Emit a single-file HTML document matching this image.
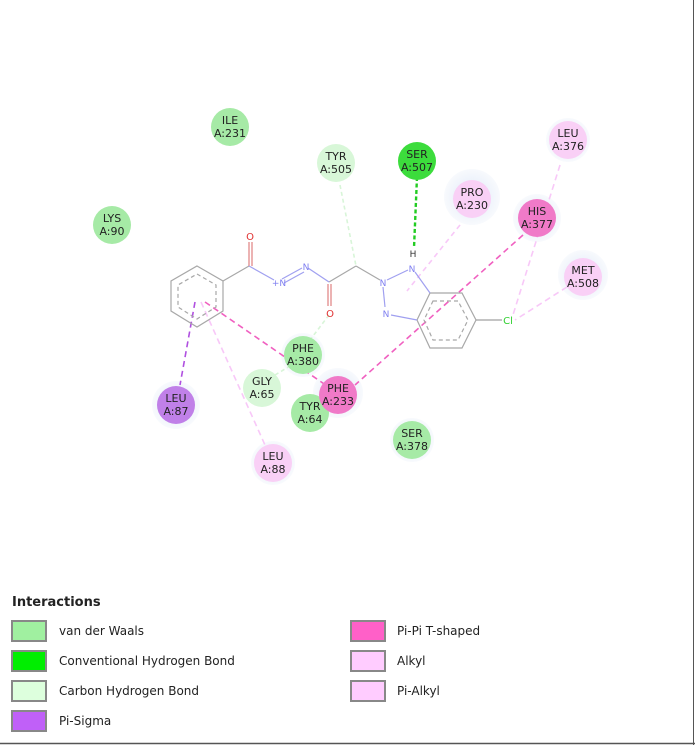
<!DOCTYPE html>
<html><head><meta charset="utf-8"><style>
body{margin:0;background:#fff;}
svg text{font-family:"DejaVu Sans","Liberation Sans",sans-serif;}
</style></head><body>
<svg width="695" height="745" viewBox="0 0 695 745" xmlns="http://www.w3.org/2000/svg">
<defs>
<radialGradient id="halo"><stop offset="0.6" stop-color="#eef3fb"/><stop offset="1" stop-color="#f8fafd"/></radialGradient>
</defs>
<rect width="695" height="745" fill="#fff"/>
<line x1="693.5" y1="0" x2="693.5" y2="745" stroke="#555" stroke-width="1"/>
<line x1="0" y1="743.5" x2="695" y2="743.5" stroke="#555" stroke-width="1.5"/>

<!-- halos -->
<g fill="url(#halo)">
<circle cx="472" cy="197" r="28"/><circle cx="568" cy="140" r="22"/><circle cx="537" cy="218" r="24"/>
<circle cx="583" cy="275" r="25"/><circle cx="338" cy="393" r="25"/><circle cx="176" cy="405" r="24"/>
<circle cx="273" cy="463" r="22"/><circle cx="303" cy="355" r="22"/><circle cx="412" cy="440" r="22"/>
</g>

<!-- interaction lines -->
<g fill="none" stroke-width="1.6">
<line x1="340" y1="185" x2="356" y2="266" stroke="#d8f5d8" stroke-dasharray="4,3"/>
<line x1="417" y1="177" x2="414" y2="248" stroke="#22cc22" stroke-width="2.4" stroke-dasharray="4,2.5"/>
<line x1="460" y1="225" x2="407" y2="291" stroke="#f8c8f8" stroke-dasharray="5,4"/>
<line x1="523" y1="235" x2="355" y2="385" stroke="#f060c0" stroke-dasharray="6,4"/>
<line x1="560" y1="165" x2="512" y2="318" stroke="#f8c8f8" stroke-dasharray="6,4"/>
<line x1="567" y1="287" x2="515" y2="320" stroke="#f8c8f8" stroke-dasharray="6,4"/>
<line x1="205" y1="302" x2="330" y2="388" stroke="#f060c0" stroke-dasharray="6,4"/>
<line x1="195" y1="302" x2="180" y2="385" stroke="#b050e0" stroke-dasharray="6,4"/>
<line x1="201" y1="302" x2="265" y2="445" stroke="#f8c8f8" stroke-dasharray="6,4"/>
<line x1="329" y1="315" x2="310" y2="340" stroke="#d8f5d8" stroke-dasharray="4,3"/>
<line x1="275" y1="375" x2="290" y2="366" stroke="#d8f5d8" stroke-dasharray="4,3"/>
</g>

<!-- molecule -->
<g stroke="#a8a8a8" stroke-width="1.2" fill="none">
<polygon points="197,266 223,281 223,311 197,327 171,311 171,281"/>
<polygon points="197,274 216,285 216,307 197,319 178,307 178,285" stroke-dasharray="4,3"/>
<line x1="223" y1="281" x2="249" y2="266"/>
<line x1="329" y1="282" x2="356" y2="266"/>
<line x1="356" y1="266" x2="380" y2="280"/>
<polygon points="430,293 462,293 476,320 462,348 430,348 417,320"/>
<polygon points="433,301 458,301 468,320 458,340 433,340 424,320" stroke-dasharray="4,3"/>
</g>
<g stroke-width="1.2" fill="none">
<line x1="249" y1="266" x2="249" y2="242" stroke="#e08080"/>
<line x1="252" y1="266" x2="252" y2="242" stroke="#e08080"/>
<line x1="249" y1="266" x2="274" y2="280" stroke="#a0a0f0"/>
<line x1="282" y1="279" x2="302" y2="268" stroke="#a0a0f0"/>
<line x1="284" y1="283" x2="304" y2="272" stroke="#a0a0f0"/>
<line x1="308" y1="268" x2="329" y2="282" stroke="#a0a0f0"/>
<line x1="328" y1="284" x2="328" y2="306" stroke="#e08080"/>
<line x1="331" y1="284" x2="331" y2="306" stroke="#e08080"/>
<line x1="387" y1="280" x2="408" y2="270" stroke="#a0a0f0"/>
<line x1="415" y1="272" x2="430" y2="293" stroke="#a0a0f0"/>
<line x1="383" y1="287" x2="385" y2="307" stroke="#a0a0f0"/>
<line x1="391" y1="315" x2="417" y2="320" stroke="#a0a0f0"/>
<line x1="476" y1="320" x2="502" y2="320" stroke="#a0a0a0"/>
</g>
<g font-size="10" text-anchor="middle">
<text x="250" y="240" fill="#e03030">O</text>
<text x="330" y="317" fill="#e03030">O</text>
<text x="279" y="286" fill="#8080f0" font-size="9">+N</text>
<text x="306" y="270" fill="#8080f0" font-size="9">N</text>
<text x="383" y="286" fill="#8080f0" font-size="9">N</text>
<text x="412" y="272" fill="#8080f0" font-size="9">N</text>
<text x="386" y="317" fill="#8080f0" font-size="9">N</text>
<text x="413" y="257" fill="#333" font-size="9">H</text>
<text x="508" y="324" fill="#30d030">Cl</text>
</g>

<!-- residues -->
<g font-size="11" text-anchor="middle" fill="#222">
<g><circle cx="230" cy="127" r="19" fill="#a6eaa6"/><text x="230" y="124">ILE</text><text x="230" y="137">A:231</text></g>
<g><circle cx="112" cy="225" r="19" fill="#a6eaa6"/><text x="112" y="222">LYS</text><text x="112" y="235">A:90</text></g>
<g><circle cx="336" cy="163" r="19" fill="#d8f7d8"/><text x="336" y="160">TYR</text><text x="336" y="173">A:505</text></g>
<g><circle cx="417" cy="161" r="19" fill="#3cdc3c"/><text x="417" y="158">SER</text><text x="417" y="171">A:507</text></g>
<g><circle cx="472" cy="199" r="19" fill="#f9d0f6"/><text x="472" y="196">PRO</text><text x="472" y="209">A:230</text></g>
<g><circle cx="568" cy="140" r="19" fill="#f9d0f6"/><text x="568" y="137">LEU</text><text x="568" y="150">A:376</text></g>
<g><circle cx="537" cy="218" r="19" fill="#f07ac8"/><text x="537" y="215">HIS</text><text x="537" y="228">A:377</text></g>
<g><circle cx="583" cy="277" r="19" fill="#f9d0f6"/><text x="583" y="274">MET</text><text x="583" y="287">A:508</text></g>
<g><circle cx="262" cy="388" r="19" fill="#d8f7d8"/><text x="262" y="385">GLY</text><text x="262" y="398">A:65</text></g>
<g><circle cx="310" cy="413" r="19" fill="#a6eaa6"/><text x="310" y="410">TYR</text><text x="310" y="423">A:64</text></g>
<g><circle cx="303" cy="355" r="19" fill="#a6eaa6"/><text x="303" y="352">PHE</text><text x="303" y="365">A:380</text></g>
<g><circle cx="338" cy="395" r="19" fill="#f07ac8"/><text x="338" y="392">PHE</text><text x="338" y="405">A:233</text></g>
<g><circle cx="176" cy="405" r="19" fill="#c080e8"/><text x="176" y="402">LEU</text><text x="176" y="415">A:87</text></g>
<g><circle cx="273" cy="463" r="19" fill="#f9d0f6"/><text x="273" y="460">LEU</text><text x="273" y="473">A:88</text></g>
<g><circle cx="412" cy="440" r="19" fill="#a6eaa6"/><text x="412" y="437">SER</text><text x="412" y="450">A:378</text></g>
</g>

<!-- legend -->
<text x="12" y="606" font-size="13" font-weight="bold" fill="#222">Interactions</text>
<g stroke="#888" stroke-width="2">
<rect x="12" y="621" width="34" height="20" fill="#a0f0a0"/>
<rect x="12" y="651" width="34" height="20" fill="#00ee00"/>
<rect x="12" y="681" width="34" height="20" fill="#ddffdd"/>
<rect x="12" y="711" width="34" height="20" fill="#c060f8"/>
<rect x="351" y="621" width="34" height="20" fill="#ff60c8"/>
<rect x="351" y="651" width="34" height="20" fill="#ffccff"/>
<rect x="351" y="681" width="34" height="20" fill="#ffccff"/>
</g>
<g font-size="12" fill="#222" font-family="Liberation Sans, sans-serif">
<text x="59" y="635">van der Waals</text>
<text x="59" y="665">Conventional Hydrogen Bond</text>
<text x="59" y="695">Carbon Hydrogen Bond</text>
<text x="59" y="725">Pi-Sigma</text>
<text x="397" y="635">Pi-Pi T-shaped</text>
<text x="397" y="665">Alkyl</text>
<text x="397" y="695">Pi-Alkyl</text>
</g>
</svg>
</body></html>
